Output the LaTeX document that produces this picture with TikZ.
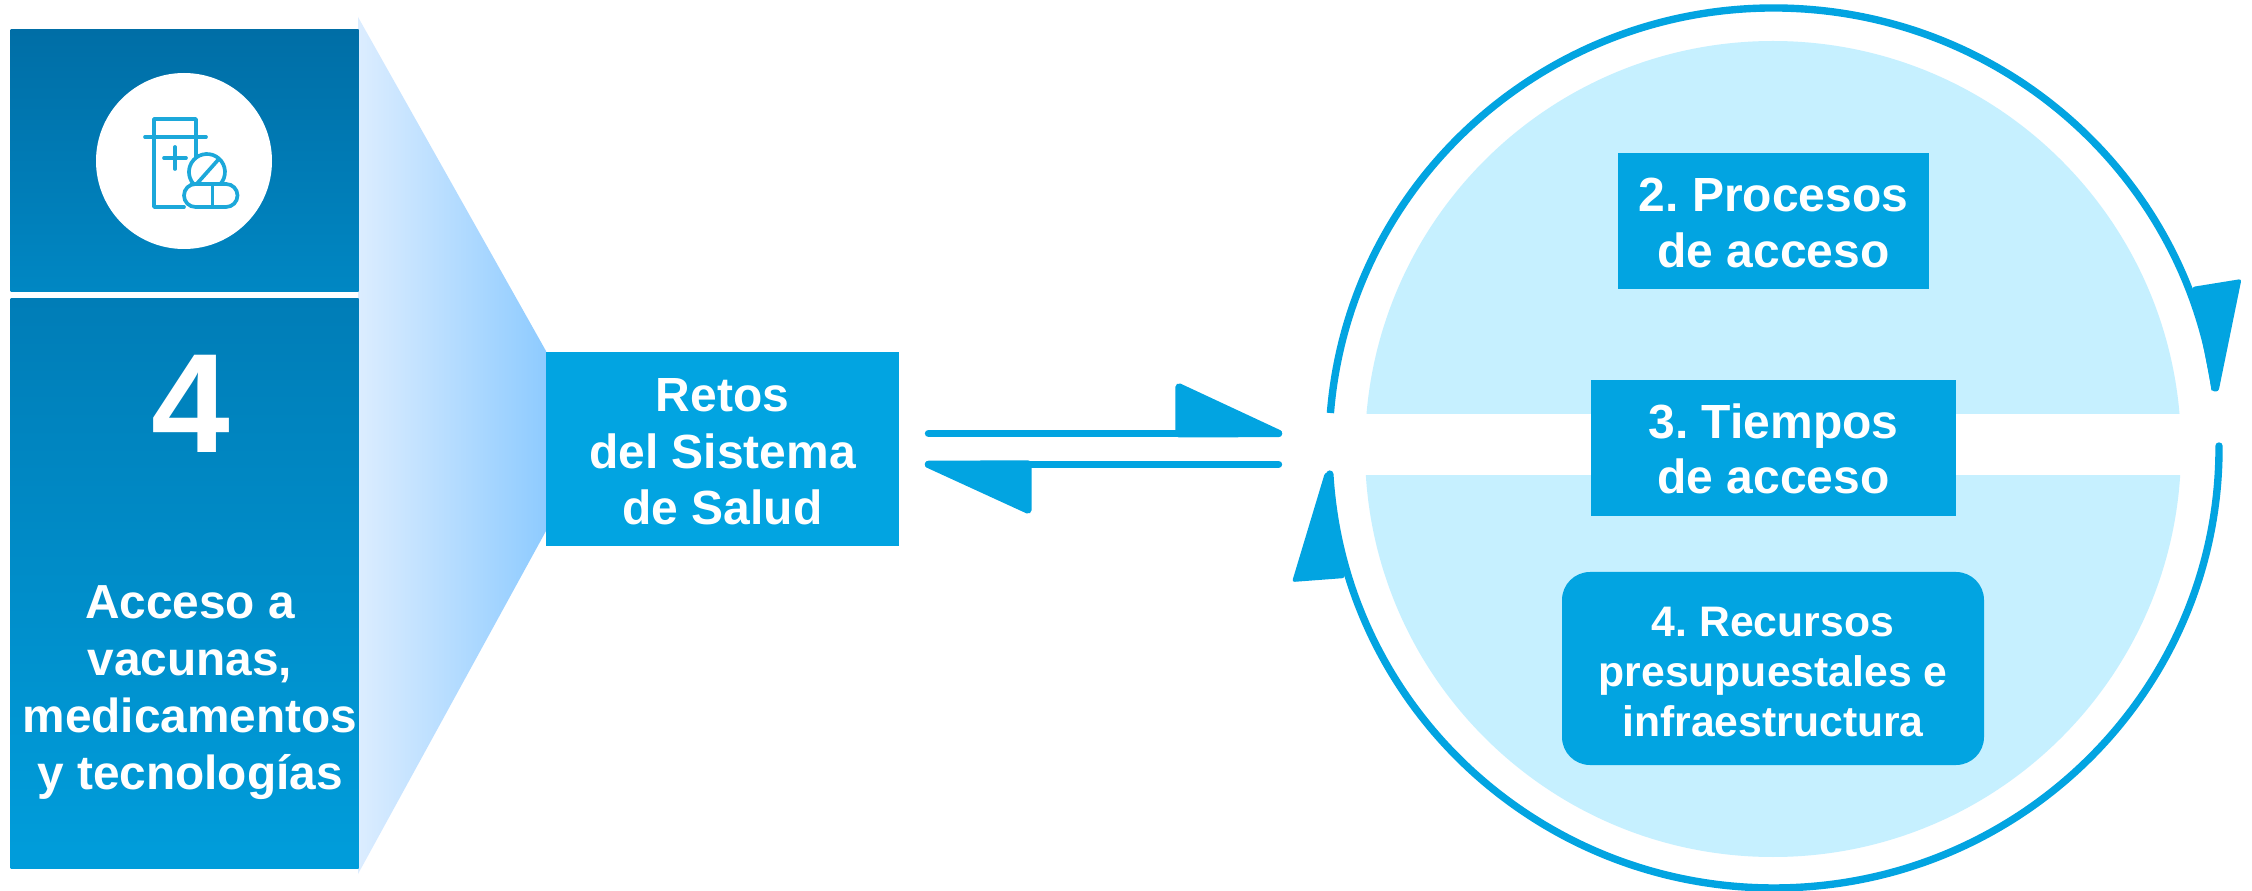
\documentclass[tikz,border=0pt]{standalone}
\usepackage{fontspec}
\setmainfont{Liberation Sans}
\frenchspacing
\definecolor{mainblue}{HTML}{02A4E1}
\definecolor{lightblue}{HTML}{C6F0FF}
\definecolor{iconblue}{HTML}{1CA8DA}
\definecolor{panelAa}{HTML}{006EA6}
\definecolor{panelAb}{HTML}{0087C3}
\definecolor{panelBa}{HTML}{007DB7}
\definecolor{panelBb}{HTML}{009DDB}
\definecolor{trapA}{HTML}{DCEDFF}
\definecolor{trapB}{HTML}{8ECBFF}
\def\pxu{0.02cm}
\tikzset{
  bluebox/.style={fill=mainblue,text=white,inner sep=0pt,align=center,font=\bfseries},
  fnt47/.style={font=\fontsize{27.3pt}{31.75pt}\bfseries\selectfont},
  fntretos/.style={font=\fontsize{27.3pt}{32.3pt}\bfseries\selectfont},
  fnt42/.style={font=\fontsize{24.3pt}{28.35pt}\bfseries\selectfont},
  fntpanel/.style={font=\fontsize{27.2pt}{32.3pt}\bfseries\selectfont},
  conn/.style={draw=mainblue,line width=4.2pt,line cap=round},
  arcline/.style={draw=mainblue,line width=4.2pt},
  headtri/.style={fill=mainblue,draw=mainblue,line width=4.2pt,line join=round},
  headcurve/.style={fill=mainblue,rounded corners=1.5pt},
  iconline/.style={draw=iconblue,line width=2.1pt,line cap=round,line join=round},
  panel/.style={inner sep=0pt,minimum width=348*\pxu,shading angle=40}
}
\begin{document}
\begin{tikzpicture}[x=0.02cm,y=-0.02cm]
\useasboundingbox (0,0) rectangle (2252,891);
\fill[white] (0,0) rectangle (2252,891);

% funnel
\shade[left color=trapA,right color=trapB] (358,17) -- (546,351) -- (546,531) -- (358,874) -- cycle;

% left panels
\node[panel,minimum height=262*\pxu,top color=panelAa,bottom color=panelAb] (panelA) at (184.5,161) {};
\node[panel,minimum height=569*\pxu,top color=panelBa,bottom color=panelBb] (panelB) at (184.5,583.5) {};

% icon
\node[circle,fill=white,inner sep=0pt,minimum size=176*\pxu] (iconbg) at (184,161) {};
\draw[iconline] (196,157) -- (196,119) -- (154,119) -- (154,207) -- (184,207);
\draw[iconline] (145,137) -- (206,137);
\draw[iconline] (164,158) -- (186,158);
\draw[iconline] (175,147) -- (175,169);
\draw[iconline] (220.4,184) arc[start angle=41.8,end angle=-221.8,x radius=18,y radius=18];
\draw[iconline] (218,160) -- (197.5,183);
\draw[iconline,rounded corners=6.5pt] (184,184) rectangle (237.5,207);
\draw[iconline] (212.5,184) -- (212.5,207);

% panel texts
\node[text=white,inner sep=0pt,font=\fontsize{80.5pt}{90pt}\bfseries\selectfont] (four) at (191,404) {4};
\node[text=white,inner sep=0pt,align=center,fntpanel] (paneltext) at (190,692.5) {Acceso a\\vacunas,\\medicamentos\\y tecnologías};

% central box
\node[bluebox,fntretos,minimum width=353*\pxu,minimum height=194*\pxu] (retos) at (722.5,449) {\rule{0pt}{21.9pt}Retos\\del Sistema\\de Salud};

% light disc
\fill[lightblue] (1773,449) ellipse [x radius=408,y radius=408];
\fill[white] (1355,414) rectangle (2190,475);

% ring
\coordinate (ringA) at (1330.4,413);
\coordinate (ringB) at (2219,446);
\draw[arcline] (ringA) arc[start angle=184.56,end angle=352.4,x radius=445,y radius=440];
\draw[arcline,line cap=round] (ringB) arc[start angle=-0.26,end angle=176.6,x radius=445,y radius=440];
\fill[headcurve] (2192,287) -- (2241.5,279) -- (2218.5,391.5) -- (2212,391.5) -- cycle;
\fill[headcurve] (1345,578) -- (1292,582) -- (1325,472.5) -- (1332,472.5) -- cycle;

% boxes on disc
\node[bluebox,fnt47,minimum width=311*\pxu,minimum height=136*\pxu] (procesos) at (1773.5,221) {\rule{0pt}{21.3pt}2. Procesos\\de acceso};
\node[bluebox,fnt47,minimum width=365*\pxu,minimum height=136*\pxu] (tiempos) at (1773.5,448) {\rule{0pt}{20.75pt}3. Tiempos\\de acceso};
\node[bluebox,fnt42,minimum width=422*\pxu,minimum height=193*\pxu,rounded corners=28*\pxu] (recursos) at (1773,668.5) {\rule{0pt}{20.75pt}4. Recursos\\presupuestales e\\infraestructura};

% double arrows
\coordinate (upStart) at (928.5,433.4);
\coordinate (upEnd) at (1278.5,433.4);
\coordinate (upTop) at (1179,387);
\coordinate (upBot) at (1179,433.8);
\coordinate (lowEnd) at (1278.5,464.4);
\coordinate (lowStart) at (928.5,464.4);
\coordinate (lowBot) at (1028,510);
\coordinate (lowTop) at (1028,464);
\draw[conn] (upStart) -- (upEnd);
\draw[headtri] (upTop) -- (upEnd) -- (upBot) -- cycle;
\draw[conn] (lowEnd) -- (lowStart);
\draw[headtri] (lowBot) -- (lowStart) -- (lowTop) -- cycle;
\end{tikzpicture}
\end{document}
